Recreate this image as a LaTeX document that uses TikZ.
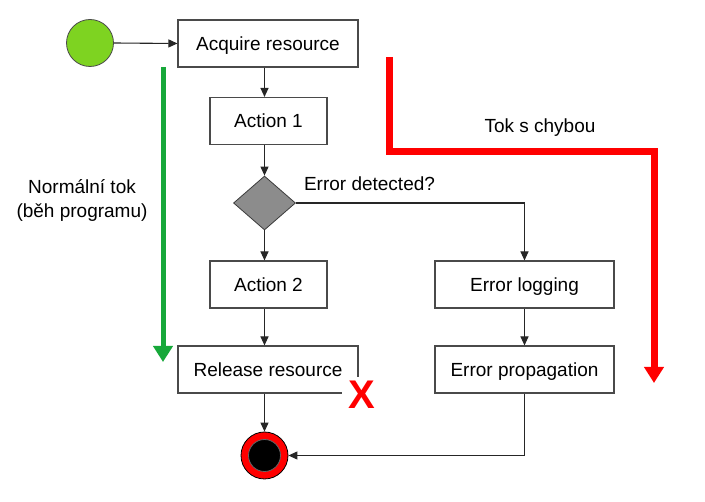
\documentclass[tikz,border=0pt]{standalone}
\usepackage{fontspec}
\setmainfont{Liberation Sans}
\usetikzlibrary{shapes.geometric,arrows.meta}
\definecolor{boxline}{HTML}{4A4A4A}
\definecolor{startgreen}{HTML}{7ED321}
\definecolor{flowgreen}{HTML}{17A83A}
\definecolor{flowred}{HTML}{FF0000}
\definecolor{diagray}{HTML}{8C8C8C}
\tikzset{
  every node/.style={font=\fontsize{19}{24}\selectfont},
  box/.style={draw=boxline, line width=1.1pt, fill=white, minimum height=47pt, inner sep=0pt, text height=17.6pt, text depth=4pt},
  arr/.style={draw=black!85, line width=1.1pt, -{Triangle[length=9pt,width=8pt]}},
  bigarr/.style={line width=#1, line join=miter, -{Triangle[length=16pt,width=19pt]}},
  lbl/.style={inner sep=0pt, align=center}
}
\begin{document}
\begin{tikzpicture}[x=1pt,y=-1pt]
\useasboundingbox (0,0) rectangle (705,502);
% nodes
\node[circle, draw=boxline, line width=0.8pt, fill=startgreen, minimum size=47pt, inner sep=0pt] (start) at (90,43) {};
\node[box, minimum width=180pt] (acq) at (268,43.5) {Acquire resource};
\node[box, minimum width=117pt] (a1) at (268.5,121) {Action 1};
\node[diamond, draw=boxline!80!black, line width=0.8pt, fill=diagray, minimum width=62pt, minimum height=54pt, inner sep=0pt] (dia) at (264.5,203) {};
\node[box, minimum width=117pt] (a2) at (268.5,284.5) {Action 2};
\node[box, minimum width=180pt] (rel) at (268,369.5) {Release resource};
\node[box, minimum width=179pt] (elog) at (524.5,284.5) {Error logging};
\node[box, minimum width=179pt] (eprop) at (524.5,369.5) {Error propagation};
\node[circle, draw=black, line width=0.8pt, fill=flowred, minimum size=47pt, inner sep=0pt] (endo) at (264.5,455.5) {};
\node[circle, draw=black!60, line width=0.8pt, fill=black, minimum size=32pt, inner sep=0pt] (endi) at (264.5,455.5) {};
\node[fill=white, text=flowred, font=\fontsize{40}{40}\bfseries\selectfont, text height=29pt, text depth=0pt, inner xsep=7pt, inner ysep=2pt] (x) at (362,394) {X};
% labels
\node[lbl] (errq) at (369.5,184) {Error detected?};
\node[lbl] (tok) at (540,128) {Tok s chybou};
\node[lbl] (norm) at (82,200) {Normální tok\\(běh programu)};
% connectors
\draw[arr] (start.east) -- (acq.west);
\draw[arr] (acq.south -| dia.north) -- (a1.north -| dia.north);
\draw[arr] (a1.south -| dia.north) -- (dia.north);
\draw[arr] (dia.south) -- (a2.north -| dia.south);
\draw[arr] (a2.south -| dia.south) -- (rel.north -| dia.south);
\draw[arr] (rel.south -| endo.north) -- (endo.north);
\draw[arr] (dia.east) -| (elog.north);
\draw[arr] (elog.south) -- (eprop.north);
\draw[arr] (eprop.south) |- (endo.east);
% flow arrows
\coordinate (g1) at (163,67);
\coordinate (g2) at (163,362);
\draw[bigarr=5pt, draw=flowgreen] (g1) -- (g2);
\coordinate (r1) at (389,57);
\coordinate (r2) at (654,151.5);
\coordinate (r3) at (654,383);
\draw[bigarr=7pt, draw=flowred] (r1) |- (r2) -- (r3);
\end{tikzpicture}
\end{document}
